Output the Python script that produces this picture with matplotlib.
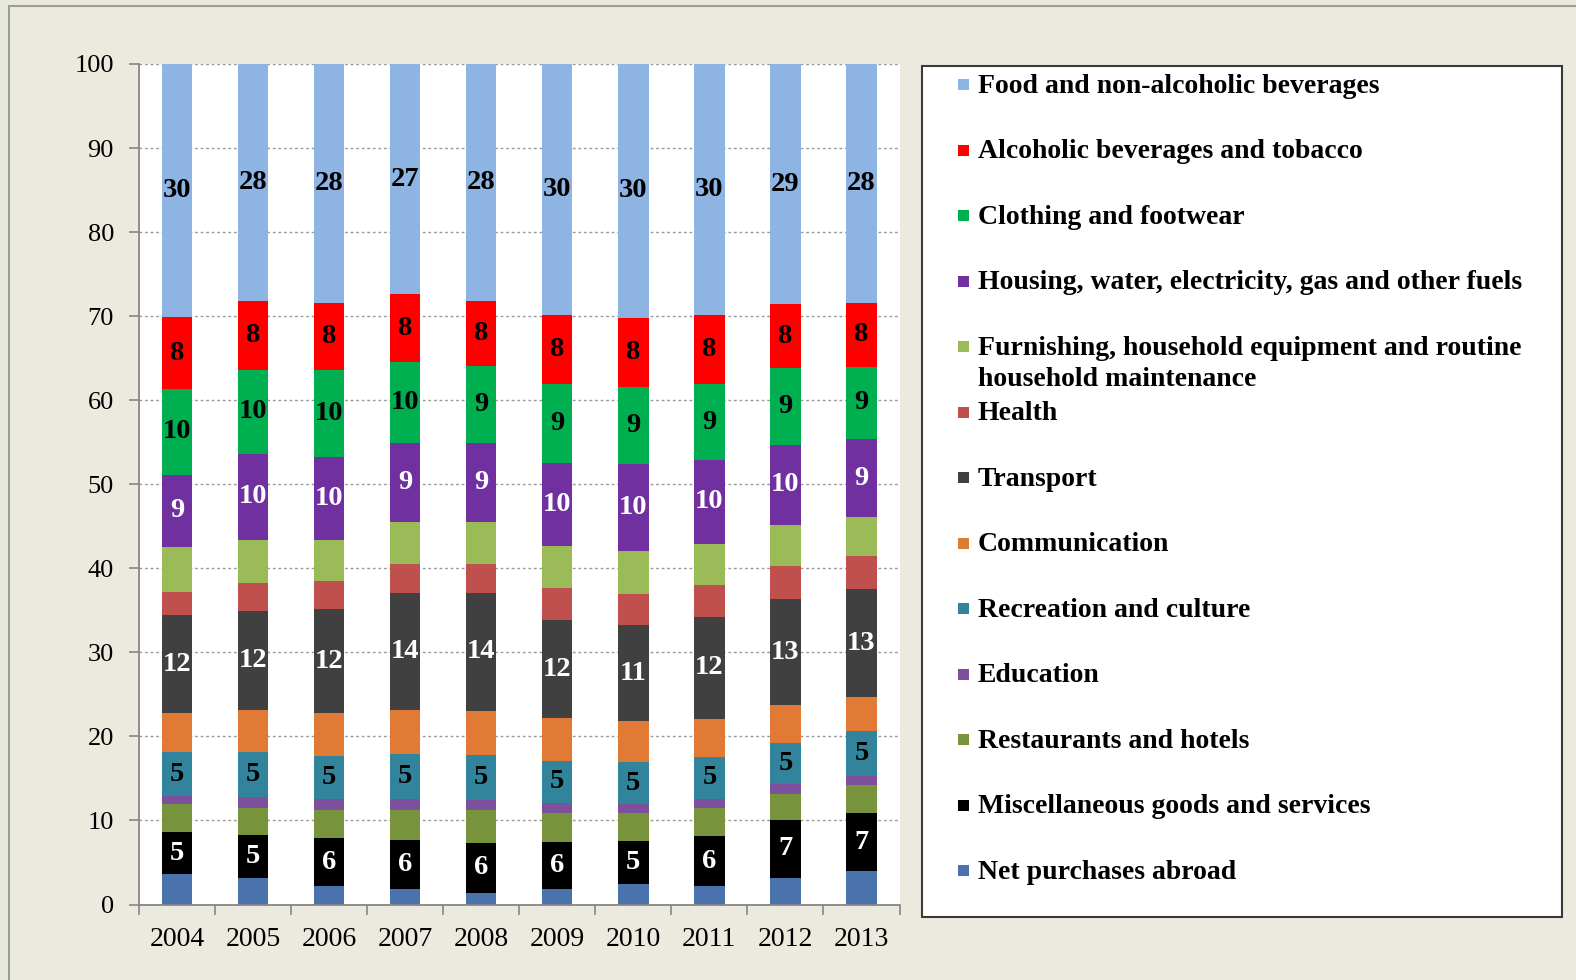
import matplotlib.pyplot as plt
from matplotlib.patches import Rectangle
import numpy as np

plt.rcParams['font.family'] = ['Liberation Serif', 'DejaVu Serif']

years = [2004, 2005, 2006, 2007, 2008, 2009, 2010, 2011, 2012, 2013]

# shares of household consumption expenditure, %, stacked bottom to top
net_purchases = [3.6, 3.2, 2.2, 1.8, 1.4, 1.8, 2.4, 2.2, 3.2, 4.0]
miscellaneous = [5.05, 5.07, 5.7, 5.9, 5.9, 5.6, 5.1, 5.9, 6.85, 6.85]
restaurants = [3.35, 3.18, 3.3, 3.5, 3.9, 3.45, 3.35, 3.4, 3.15, 3.35]
education = [0.9, 1.3, 1.4, 1.35, 1.2, 1.25, 1.1, 1.1, 1.1, 1.1]
recreation = [5.2, 5.35, 5.1, 5.35, 5.4, 5.0, 5.0, 5.0, 4.9, 5.3]
communication = [4.7, 5.1, 5.1, 5.3, 5.2, 5.1, 4.85, 4.5, 4.5, 4.1]
transport = [11.6, 11.7, 12.3, 13.9, 14.1, 11.6, 11.4, 12.1, 12.6, 12.8]
health = [2.8, 3.4, 3.4, 3.4, 3.4, 3.8, 3.7, 3.8, 4.0, 4.0]
furnishing = [5.35, 5.1, 4.9, 5.0, 5.0, 5.1, 5.1, 4.9, 4.85, 4.6]
housing = [8.6, 10.2, 9.8, 9.4, 9.4, 9.8, 10.4, 10.0, 9.55, 9.25]
clothing = [10.2, 10.0, 10.4, 9.6, 9.2, 9.4, 9.2, 9.0, 9.1, 8.65]
alcohol = [8.5, 8.2, 8.0, 8.1, 7.7, 8.2, 8.2, 8.2, 7.6, 7.6]
food = [30.15, 28.2, 28.4, 27.4, 28.2, 29.9, 30.2, 29.9, 28.6, 28.4]

series = [
    ("Net purchases abroad", net_purchases, '#4A72AC', None),
    ("Miscellaneous goods and services", miscellaneous, '#000000', 'white'),
    ("Restaurants and hotels", restaurants, '#77933C', None),
    ("Education", education, '#7D509E', None),
    ("Recreation and culture", recreation, '#31849B', 'black'),
    ("Communication", communication, '#E07A35', None),
    ("Transport", transport, '#404040', 'white'),
    ("Health", health, '#C0504D', None),
    ("Furnishing, household equipment and routine\nhousehold maintenance",
     furnishing, '#9BBB59', None),
    ("Housing, water, electricity, gas and other fuels", housing, '#7030A0', 'white'),
    ("Clothing and footwear", clothing, '#00B050', 'black'),
    ("Alcoholic beverages and tobacco", alcohol, '#FF0000', 'black'),
    ("Food and non-alcoholic beverages", food, '#8EB4E3', 'black'),
]

W, H = 1576, 980
fig = plt.figure(figsize=(W / 100, H / 100), dpi=100, facecolor='#E8EBDC')


def fx(px):
    return px / W


def fy(py):
    return 1 - py / H


# framed panel behind everything
fig.patches.append(Rectangle((fx(9), -0.1), 1.2, fy(6) + 0.1, transform=fig.transFigure,
                             facecolor='#ECE9DF', edgecolor='#9C9C9C', lw=1.5, zorder=-5))

ax = fig.add_axes([fx(139), fy(904.5), fx(899.5) - fx(139), fy(64) - fy(904.5)])
ax.set_zorder(2)
ax.set_facecolor('white')

x = np.arange(len(years))
bottom = np.zeros(len(years))
for name, vals, color, txtcolor in series:
    vals = np.array(vals)
    bars = ax.bar(x, vals, width=0.4, bottom=bottom, color=color, zorder=2)
    if txtcolor:
        ax.bar_label(bars, labels=[f"{v:.0f}" for v in vals], label_type='center',
                     color=txtcolor, fontsize=20.5, fontweight='bold', zorder=3)
    bottom += vals

ax.set_ylim(0, 100)
ax.set_xlim(-0.5, len(years) - 0.5)
ax.set_yticks(range(0, 101, 10))
ax.yaxis.grid(True, color='#9A9A9A', linestyle=(0, (2, 2)), linewidth=1.0, zorder=1)
ax.set_axisbelow(True)

# tick marks between categories, labels under the bars
ax.set_xticks(np.arange(-0.5, len(years), 1.0))
ax.set_xticklabels([])
ax.set_xticks(x, minor=True)
ax.set_xticklabels([str(y) for y in years], minor=True)
ax.tick_params(axis='x', which='major', length=7, width=1.2, color='#868686', direction='out')
ax.tick_params(axis='x', which='minor', length=0, pad=16, labelsize=20)
ax.tick_params(axis='y', length=7, width=1.2, color='#868686', pad=11, labelsize=19)

for side in ('top', 'right'):
    ax.spines[side].set_visible(False)
for side in ('left', 'bottom'):
    ax.spines[side].set_color('#868686')
    ax.spines[side].set_linewidth(1.3)

# legend box, one row per category, top category first
fig.patches.append(Rectangle((fx(922), fy(917)), fx(1562) - fx(922), fy(66) - fy(917),
                             transform=fig.transFigure, facecolor='white',
                             edgecolor='#3A3A3A', lw=1.5, zorder=1))
row0, step, line_h = 84.4, 65.5, 31
for i, (name, vals, color, txtcolor) in enumerate(series[::-1]):
    yc = row0 + i * step
    fig.patches.append(Rectangle((fx(958), fy(yc + 6)), fx(11), 11 / H,
                                 transform=fig.transFigure, facecolor=color,
                                 edgecolor='none', zorder=2))
    for k, line in enumerate(name.split('\n')):
        fig.text(fx(978), fy(yc + 2 + k * line_h), line, fontsize=20, fontweight='bold',
                 va='center', ha='left', zorder=3)

fig.savefig('out.png', dpi=100, facecolor=fig.get_facecolor())
